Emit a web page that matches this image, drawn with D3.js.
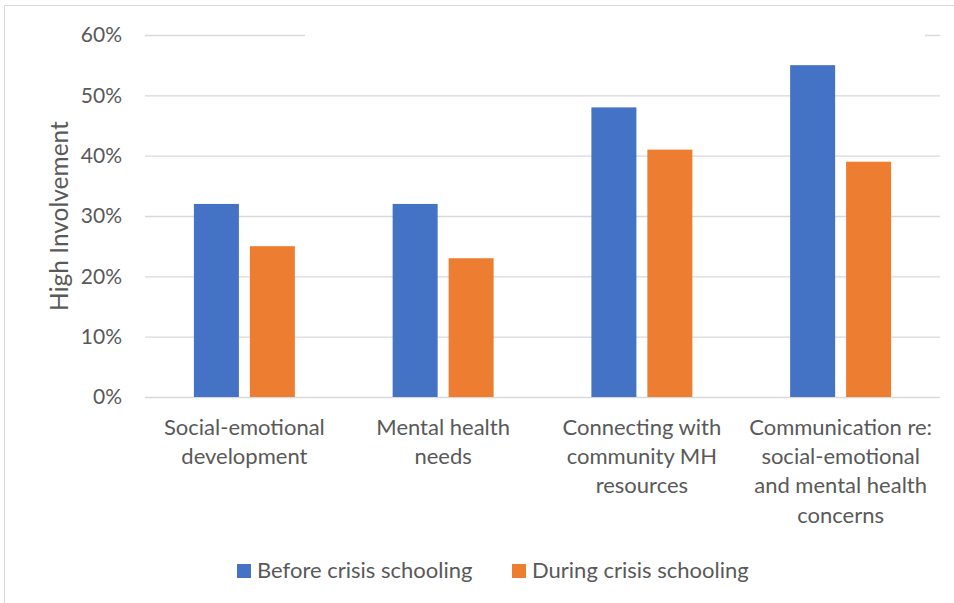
<!DOCTYPE html>
<html>
<head>
<meta charset="utf-8">
<script src="https://cdn.jsdelivr.net/npm/d3@7"></script>
<style>
  html, body { margin: 0; padding: 0; background: #fff; }
  svg { display: block; font-family: Lato, "Open Sans", sans-serif; }
</style>
</head>
<body>
<svg id="chart" width="954" height="603"></svg>
<script>
// Category labels, already broken into lines
const categories = [
  ["Social-emotional", "development"],
  ["Mental health", "needs"],
  ["Connecting with", "community MH", "resources"],
  ["Communication re:", "social-emotional", "and mental health", "concerns"]
];
const seriesNames = ["Before crisis schooling", "During crisis schooling"];
const beforeValues = [0.32, 0.32, 0.48, 0.55];
const duringValues = [0.25, 0.23, 0.41, 0.39];
const yTicks = [0, 0.1, 0.2, 0.3, 0.4, 0.5, 0.6];
const yTitle = "High Involvement";

const colors = ["#4472C4", "#ED7D31"];
const textColor = "#595959";
const gridColor = "#d9d9d9";
const fontSize = 22;

const svg = d3.select("#chart");
const plot = { left: 145, right: 940, top: 35, bottom: 397 };

// outer chart frame
svg.append("rect")
  .attr("x", 4.5).attr("y", 5.5)
  .attr("width", 1000).attr("height", 1000)
  .attr("fill", "#fff")
  .attr("stroke", gridColor).attr("stroke-width", 1);

const x = d3.scaleBand()
  .domain(d3.range(categories.length))
  .range([plot.left, plot.right])
  .paddingInner(0.492)
  .paddingOuter(0.246);

const x1 = d3.scaleBand()
  .domain([0, 1])
  .range([0, x.bandwidth()])
  .paddingInner(0.196);

const y = d3.scaleLinear().domain([0, 0.6]).range([plot.bottom, plot.top]);

// value axis with gridlines
const yAxis = svg.append("g")
  .attr("transform", `translate(${plot.left},0)`)
  .call(d3.axisLeft(y)
    .tickValues(yTicks)
    .tickFormat(d3.format(".0%"))
    .tickSize(-(plot.right - plot.left))
    .tickPadding(23));
yAxis.select(".domain").remove();
yAxis.selectAll(".tick line").attr("stroke", gridColor).attr("stroke-width", 1.4);
yAxis.selectAll(".tick text")
  .attr("fill", textColor)
  .attr("font-size", 21)
  .attr("font-family", "Lato, sans-serif");

// empty title box sitting over the top gridline
svg.append("rect")
  .attr("x", 305).attr("y", 26)
  .attr("width", 620).attr("height", 18)
  .attr("fill", "#fff");

// bars
const series = [beforeValues, duringValues];
const groups = svg.append("g");
series.forEach((vals, si) => {
  groups.selectAll(null)
    .data(vals)
    .join("rect")
    .attr("x", (d, i) => x(i) + x1(si))
    .attr("y", d => y(d))
    .attr("width", x1.bandwidth())
    .attr("height", d => y(0) - y(d))
    .attr("fill", colors[si]);
});

// category labels
const catG = svg.append("g")
  .attr("fill", textColor)
  .attr("font-size", fontSize)
  .attr("text-anchor", "middle");
categories.forEach((lines, i) => {
  const t = catG.append("text")
    .attr("x", x(i) + x.bandwidth() / 2)
    .attr("y", 435);
  lines.forEach((ln, j) => {
    t.append("tspan")
      .attr("x", x(i) + x.bandwidth() / 2)
      .attr("y", 435 + j * 29.2)
      .text(ln);
  });
});

// axis title
svg.append("text")
  .attr("transform", `translate(68,${(plot.top + plot.bottom) / 2}) rotate(-90)`)
  .attr("text-anchor", "middle")
  .attr("fill", textColor)
  .attr("font-size", 24.5)
  .text(yTitle);

// legend
const legendItems = [
  { x: 237, name: seriesNames[0], color: colors[0] },
  { x: 512, name: seriesNames[1], color: colors[1] }
];
const lg = svg.append("g");
legendItems.forEach(item => {
  lg.append("rect")
    .attr("x", item.x).attr("y", 564)
    .attr("width", 14).attr("height", 14)
    .attr("fill", item.color);
  lg.append("text")
    .attr("x", item.x + 20).attr("y", 578)
    .attr("fill", textColor)
    .attr("font-size", fontSize)
    .text(item.name);
});
</script>
</body>
</html>
